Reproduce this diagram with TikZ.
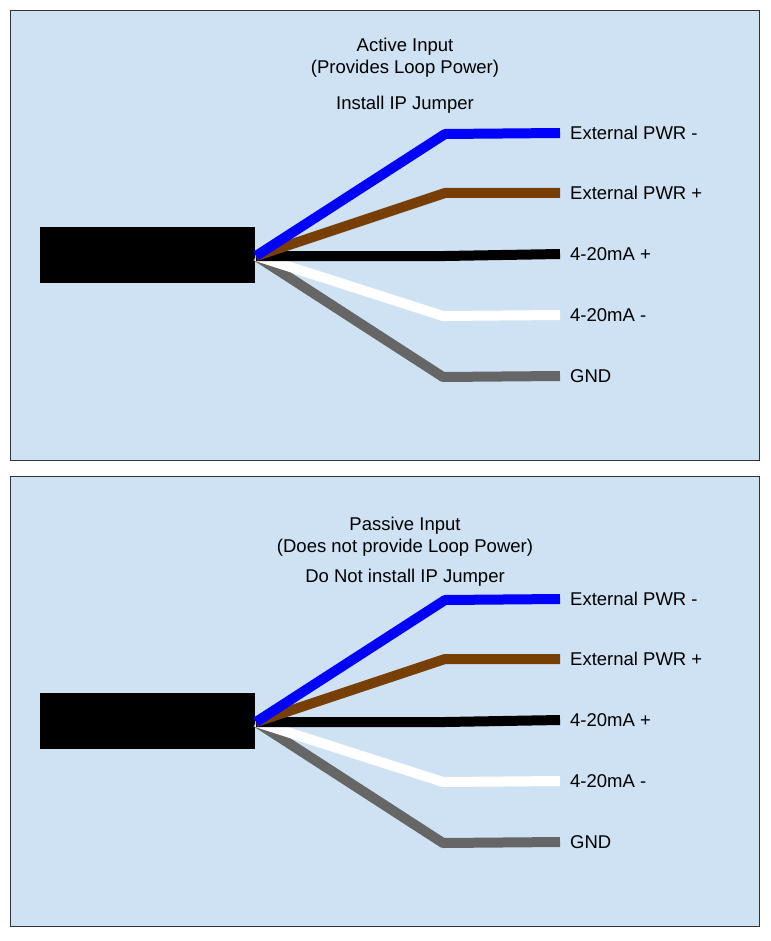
\documentclass[tikz,border=0pt]{standalone}
\usepackage{fontspec}
\setmainfont{Liberation Sans}
\usepackage{xcolor}
\definecolor{panelblue}{HTML}{CFE2F3}
\definecolor{wirebrown}{HTML}{783F04}
\definecolor{wiregray}{HTML}{666666}
\usetikzlibrary{positioning}
\tikzstyle{panel} = [draw=black!80, fill=panelblue, line width=0.8pt]
\tikzstyle{cable} = [fill=black, draw=none, minimum width=215pt, minimum height=56pt, inner sep=0pt]
\tikzstyle{wire} = [line width=10pt, line join=round]
\tikzstyle{label} = [anchor=west, inner sep=0pt, font=\fontsize{18.5}{22}\selectfont]
\tikzstyle{title} = [inner sep=0pt, font=\fontsize{18.5}{22}\selectfont, align=center]

\begin{document}
\begin{tikzpicture}[x=1pt, y=-1pt]

    \useasboundingbox (0,0) rectangle (770,941);

    \foreach \dy/\name/\sub/\jumper/\ty/\jy in {0/Active Input/(Provides Loop Power)/Install IP Jumper/47/105,
        466/Passive Input/(Does not provide Loop Power)/Do Not install IP Jumper/60/112}{
    \begin{scope}[yshift=-\dy pt]
        % Panel
        \draw [panel] (10,10) rectangle (759,460);
        \node (name) [title] at (405,\ty) {\name};
        \node (sub) [title, below=4pt of name] {\sub};
        \node (jumper) [title] at (405,\jy) {\jumper};

        % Cable
        \node (cable) [cable] at (147.5,255) {};
        \coordinate (split) at (256,256);

        % Wire ends
        \coordinate (b1) at (445,134);
        \coordinate (b2) at (445,193);
        \coordinate (b3) at (445,256);
        \coordinate (b4) at (443,316);
        \coordinate (b5) at (443,377);
        \node (pm) [label] at (570,133) {External PWR -};
        \node (pp) [label] at (570,193) {External PWR +};
        \node (ap) [label] at (570,254) {4-20mA +};
        \node (am) [label] at (570,315) {4-20mA -};
        \node (gnd) [label] at (570,376) {GND};

        % Wires
        \draw [wire, wiregray] (split) -- (b5) -- ([xshift=-10pt]gnd.west);
        \draw [wire, white] (split) -- (b4) -- ([xshift=-10pt]am.west);
        \draw [wire, black] (split) -- (b3) -- ([xshift=-10pt]ap.west);
        \draw [wire, wirebrown] (split) -- (b2) -- ([xshift=-10pt]pp.west);
        \draw [wire, blue] (split) -- (b1) -- ([xshift=-10pt]pm.west);
    \end{scope}
    }

\end{tikzpicture}
\end{document}
